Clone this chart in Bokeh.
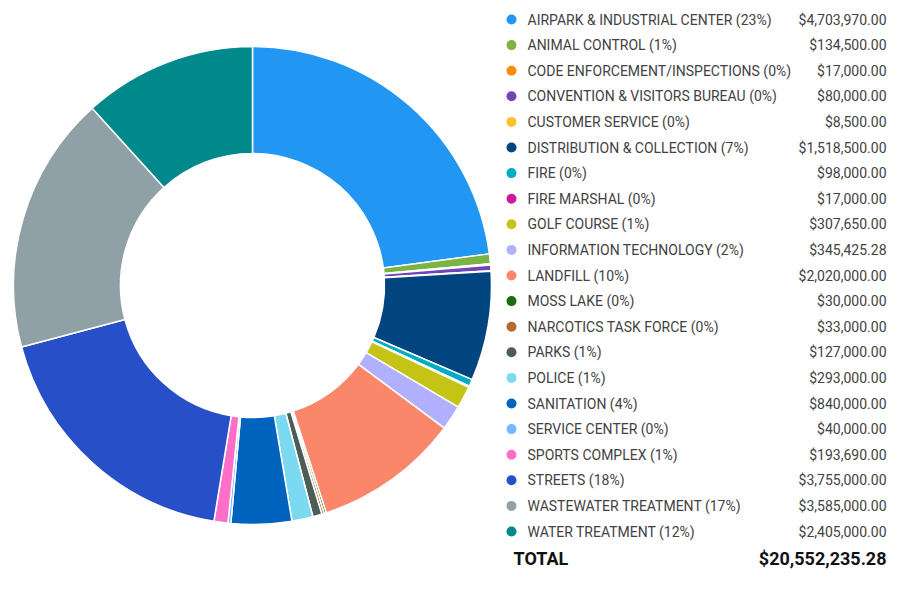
import numpy as np
from bokeh.plotting import figure
from bokeh.models import ColumnDataSource
from bokeh.core.properties import value
from bokeh.embed import file_html
from bokeh.resources import INLINE

categories = [
    "AIRPARK & INDUSTRIAL CENTER", "ANIMAL CONTROL", "CODE ENFORCEMENT/INSPECTIONS",
    "CONVENTION & VISITORS BUREAU", "CUSTOMER SERVICE", "DISTRIBUTION & COLLECTION",
    "FIRE", "FIRE MARSHAL", "GOLF COURSE", "INFORMATION TECHNOLOGY", "LANDFILL",
    "MOSS LAKE", "NARCOTICS TASK FORCE", "PARKS", "POLICE", "SANITATION",
    "SERVICE CENTER", "SPORTS COMPLEX", "STREETS", "WASTEWATER TREATMENT",
    "WATER TREATMENT",
]
amounts = [
    4703970.00, 134500.00, 17000.00, 80000.00, 8500.00, 1518500.00,
    98000.00, 17000.00, 307650.00, 345425.28, 2020000.00,
    30000.00, 33000.00, 127000.00, 293000.00, 840000.00,
    40000.00, 193690.00, 3755000.00, 3585000.00, 2405000.00,
]
colors = [
    "#2196f3", "#7cb342", "#fb8c00", "#6f46b8", "#fbc02d", "#004580",
    "#00acc1", "#cc1b9a", "#c5c416", "#b0b0ff", "#fa8769",
    "#1a6e0e", "#b8692c", "#4b5d57", "#7bd9f1", "#0063bd",
    "#74b8ff", "#ff6ec7", "#2750c8", "#8fa0a6", "#00898b",
]

W, H = 887, 575
vals = np.array(amounts)
total = vals.sum()
frac = vals / total
cum = np.concatenate([[0], np.cumsum(frac)])
start = np.pi / 2 - cum[:-1] * 2 * np.pi
end = np.pi / 2 - cum[1:] * 2 * np.pi

p = figure(width=W, height=H, x_range=(0, W), y_range=(0, H),
           output_backend="svg", toolbar_location=None, min_border=0)
p.axis.visible = False
p.grid.visible = False
p.outline_line_color = None

cx, cy = 252, H - 285
wedge_src = ColumnDataSource(dict(start=start, end=end, color=colors))
p.annular_wedge(x=cx, y=cy, inner_radius=132, outer_radius=239,
                start_angle="start", end_angle="end", direction="clock",
                fill_color="color", line_color="white", line_width=1.5,
                source=wedge_src)

n = len(categories)
row0 = H - 19
step = 25.6
ys = [row0 - i * step for i in range(n)]
labels = [f"{c} ({round(f * 100)}%)" for c, f in zip(categories, frac)]
money = [f"${a:,.2f}" for a in amounts]

leg = ColumnDataSource(dict(y=ys, label=labels, money=money, color=colors))
p.scatter(x=511, y="y", size=10, fill_color="color", line_color=None, source=leg)
p.text(x=527, y="y", text="label", text_baseline="middle", text_align="left",
       text_font=value("Roboto"), text_font_size="14px", text_color="#424242", source=leg)
p.text(x=886, y="y", text="money", text_baseline="middle", text_align="right",
       text_font=value("Roboto"), text_font_size="14px", text_color="#424242", source=leg)

ty = H - 558
p.text(x=[513], y=[ty], text=["TOTAL"], text_baseline="middle", text_align="left",
       text_font=value("Roboto"), text_font_size="18px", text_font_style="bold",
       text_color="#111111")
p.text(x=[886], y=[ty], text=[f"${total:,.2f}"], text_baseline="middle", text_align="right",
       text_font=value("Roboto"), text_font_size="18px", text_font_style="bold",
       text_color="#111111")

open("out.html", "w").write(file_html(p, INLINE))
